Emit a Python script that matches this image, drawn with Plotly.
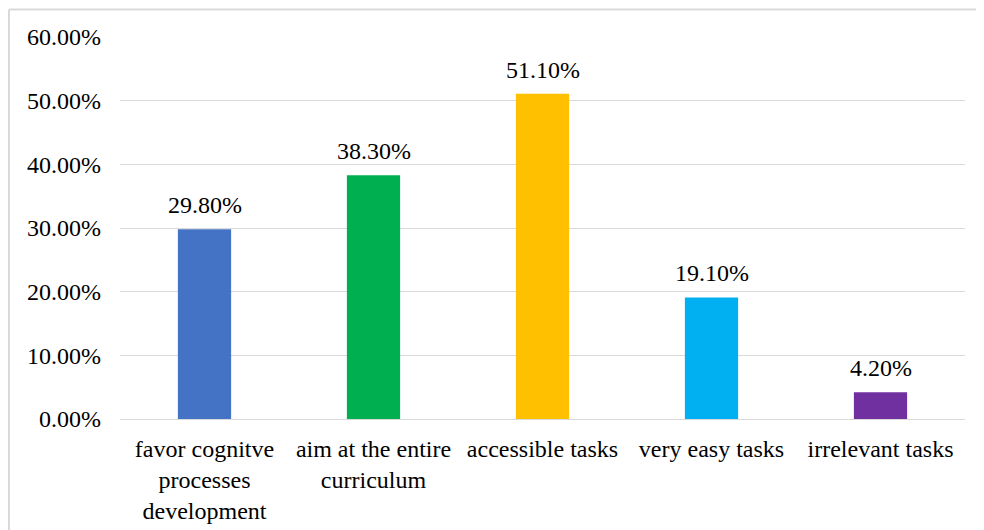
import plotly.graph_objects as go

categories = ["favor cognitve<br>processes<br>development", "aim at the entire<br>curriculum",
              "accessible tasks", "very easy tasks", "irrelevant tasks"]
values = [29.8, 38.3, 51.1, 19.1, 4.2]
colors = ["#4472C4", "#00B050", "#FFC000", "#00B0F0", "#7030A0"]
tick_vals = [0, 10, 20, 30, 40, 50, 60]
tick_text = ["0.00%", "10.00%", "20.00%", "30.00%", "40.00%", "50.00%", "60.00%"]

FONT = "Liberation Serif"
FS = 24

fig = go.Figure(go.Bar(
    x=categories, y=values,
    marker=dict(color=colors, line=dict(width=0)),
    cliponaxis=False,
    width=0.315,
))

for c, v in zip(categories, values):
    fig.add_annotation(x=c, y=v, xref="x", yref="y", text=f"{v:.2f}%",
                       showarrow=False, yanchor="bottom", yshift=9,
                       font=dict(family=FONT, size=FS, color="#000000"))

# page body offsets the figure by 8px
L, R, T, B = 112, 27, 29, 119
W, H = 984, 530
pw, ph = W - L - R, H - T - B

fig.update_layout(
    width=W, height=H,
    margin=dict(l=L, r=R, t=T, b=B),
    paper_bgcolor="white", plot_bgcolor="white",
    font=dict(family=FONT, size=FS, color="#000000"),
    showlegend=False,
    yaxis=dict(range=[0, 60], tickvals=tick_vals, ticktext=tick_text,
               showgrid=True, gridcolor="#d9d9d9", gridwidth=1,
               zeroline=True, zerolinecolor="#d9d9d9", zerolinewidth=1,
               showline=False, ticks="", ticklabelstandoff=18,
               tickfont=dict(family=FONT, size=FS, color="#000000")),
    xaxis=dict(showgrid=False, showline=False, ticks="",
               tickangle=0, ticklabelstandoff=13,
               tickfont=dict(family=FONT, size=FS, color="#000000")),
    shapes=[
        dict(type="line", xref="paper", yref="paper",
             x0=(1 - L) / pw, x1=(W + 10 - L) / pw,
             y0=(H - B - 1.5) / ph, y1=(H - B - 1.5) / ph,
             line=dict(color="#d9d9d9", width=2)),
        dict(type="line", xref="paper", yref="paper",
             x0=(1 - L) / pw, x1=(1 - L) / pw,
             y0=(H - B - 1.5) / ph, y1=-(B + 10) / ph,
             line=dict(color="#d9d9d9", width=2)),
    ],
)

fig.write_html("out.html")
